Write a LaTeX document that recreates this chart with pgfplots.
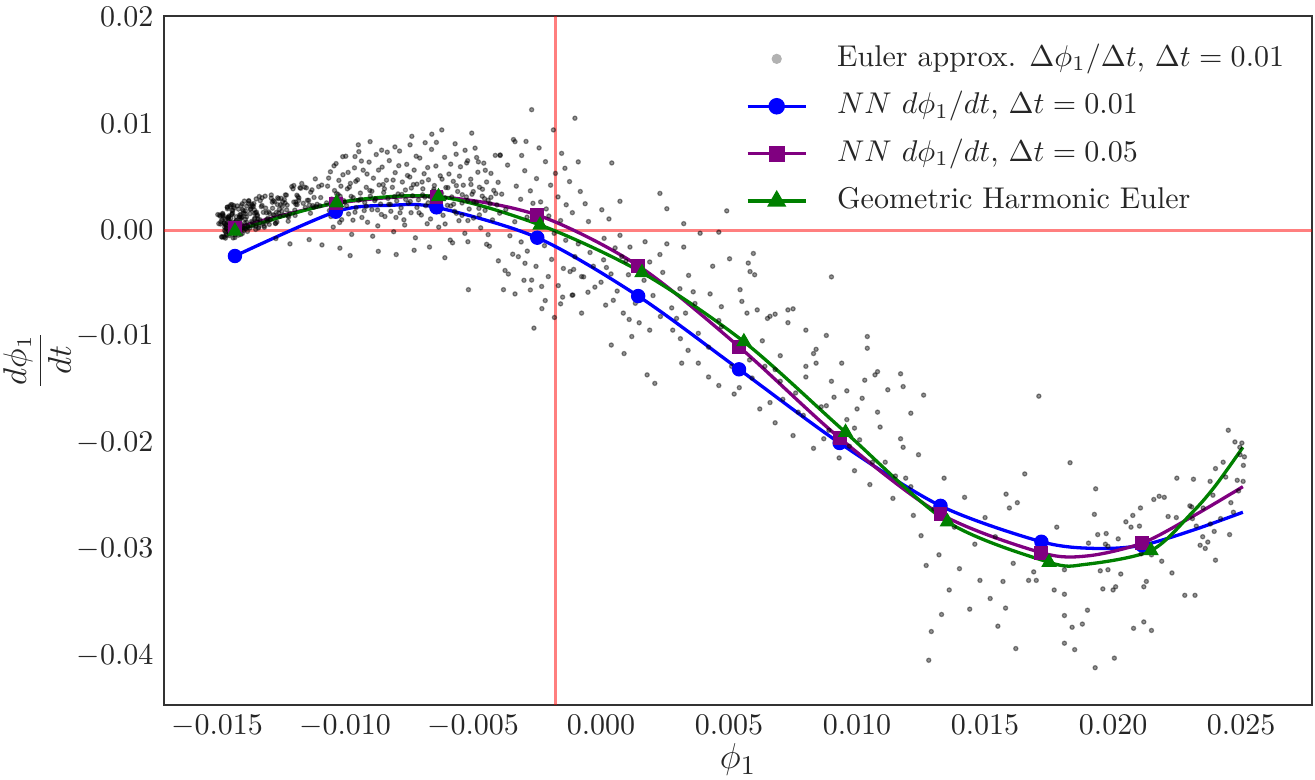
\documentclass[border=0pt]{standalone}
\usepackage{pgfplots}
\pgfplotsset{compat=1.18}
\definecolor{nnpurple}{RGB}{128,0,128}
\definecolor{ghgreen}{RGB}{0,128,0}
\definecolor{frame}{RGB}{51,51,51}
\begin{document}
\begin{tikzpicture}
\path[use as bounding box] (-54.67pt,-25pt) rectangle (383.67pt,235pt);
\begin{axis}[
  at={(0,0)}, anchor=south west,
  scale only axis, width=382.67pt, height=229.67pt,
  xmin=-0.01707, xmax=0.02777, ymin=-0.0446, ymax=0.0201,
  xtick={-0.015,-0.010,-0.005,0,0.005,0.010,0.015,0.020,0.025},
  ytick={-0.04,-0.03,-0.02,-0.01,0,0.01,0.02},
  scaled x ticks=false, scaled y ticks=false,
  xticklabel style={/pgf/number format/.cd, fixed, fixed zerofill, precision=3},
  yticklabel style={/pgf/number format/.cd, fixed, fixed zerofill, precision=2},
  major tick length=0pt,
  axis line style={draw=frame, line width=0.8pt},
  tick label style={font=\fontsize{10}{12}\selectfont, text=black!85},
  xlabel={$\phi_1$}, ylabel={$\displaystyle\frac{d\phi_1}{dt}$},
  xlabel style={font=\fontsize{13}{15}\selectfont, at={(axis description cs:0.5,-0.0797)}, anchor=center, text=black!85},
  ylabel style={font=\fontsize{10.5}{12}\selectfont, at={(axis description cs:-0.1105,0.5)}, anchor=center, text=black!85},
  legend cell align=left,
  legend image code/.code={\path (0pt,0pt) (26.8pt,0pt);\draw[mark repeat=2,mark phase=2,#1] plot coordinates {(0pt,0pt) (9.7pt,0pt) (19.4pt,0pt)};},
  legend style={at={(axis description cs:0.9906,0.98)}, anchor=north east, draw=none, fill=none,
    font=\fontsize{10}{12}\selectfont, text=black!85, row sep=0.8pt,
    nodes={inner sep=2.5pt, text height=7.5pt, text depth=2.5pt}},
]
\addlegendimage{only marks, mark=*, mark size=1.5pt, color=black!30}
\addlegendentry{Euler approx. $\Delta\phi_1/\Delta t$, $\Delta t = 0.01$}
\addlegendimage{blue, line width=1.1pt, mark=*, mark size=2.2pt}
\addlegendentry{$NN\ d\phi_1/dt$, $\Delta t = 0.01$}
\addlegendimage{nnpurple, line width=1.1pt, mark=square*, mark size=2.1pt}
\addlegendentry{$NN\ d\phi_1/dt$, $\Delta t = 0.05$}
\addlegendimage{ghgreen, line width=1.1pt, mark=triangle*, mark size=2.6pt}
\addlegendentry{Geometric Harmonic Euler}

% scatter: Euler approximation
\addplot[only marks, mark=*, mark size=0.7pt, color=black, opacity=0.42, forget plot] table[row sep=\\] {
x y\\
-0.01473 0.00063\\ -0.01291 0.00098\\ -0.01402 0.00246\\ -0.01187 0.00238\\ -0.01455 0.00120\\ -0.01338 0.00019\\ -0.01229 0.00328\\ -0.01446 0.00075\\ -0.01361 0.00072\\ -0.01116 0.00480\\
-0.01428 0.00075\\ -0.01275 0.00267\\ -0.01481 -0.00067\\ -0.01310 0.00206\\ -0.01392 0.00067\\ -0.01158 0.00403\\ -0.01437 -0.00074\\ -0.01250 0.00298\\ -0.01349 0.00161\\ -0.01466 -0.00020\\
-0.01203 0.00387\\ -0.01419 0.00056\\ -0.01327 0.00220\\ -0.01098 0.00228\\ -0.01458 0.00069\\ -0.01384 0.00225\\ -0.01266 0.00075\\ -0.01411 0.00143\\ -0.01142 0.00279\\ -0.01449 0.00223\\
-0.01301 0.00110\\ -0.01371 0.00154\\ -0.01223 0.00131\\ -0.01488 0.00131\\ -0.01343 0.00143\\ -0.01176 0.00397\\ -0.01433 0.00031\\ -0.01283 0.00205\\ -0.01407 -0.00041\\ -0.01129 0.00377\\
-0.01462 0.00032\\ -0.01356 0.00249\\ -0.01240 0.00140\\ -0.01396 0.00159\\ -0.01195 0.00137\\ -0.01441 0.00238\\ -0.01319 0.00166\\ -0.01470 -0.00005\\ -0.01259 0.00294\\ -0.01379 0.00026\\
-0.01466 0.00047\\ -0.01284 0.00261\\ -0.01395 -0.00004\\ -0.01180 0.00301\\ -0.01448 0.00025\\ -0.01331 0.00276\\ -0.01222 0.00083\\ -0.01439 0.00159\\ -0.01354 0.00157\\ -0.01109 0.00242\\
-0.01421 0.00227\\ -0.01268 0.00166\\ -0.01474 0.00112\\ -0.01303 0.00078\\ -0.01385 0.00123\\ -0.01151 0.00396\\ -0.01430 -0.00045\\ -0.01243 0.00266\\ -0.01342 0.00132\\ -0.01459 0.00215\\
-0.01196 0.00187\\ -0.01412 0.00124\\ -0.01320 0.00060\\ -0.01091 0.00422\\ -0.01451 0.00064\\ -0.01377 0.00249\\ -0.01259 0.00159\\ -0.01404 0.00117\\ -0.01135 0.00158\\ -0.01442 0.00148\\
-0.01294 0.00155\\ -0.01364 0.00243\\ -0.01216 0.00157\\ -0.01481 0.00096\\ -0.01336 0.00033\\ -0.01169 0.00437\\ -0.01426 0.00087\\ -0.01276 0.00137\\ -0.01400 0.00191\\ -0.01122 0.00214\\
-0.01455 0.00103\\ -0.01349 0.00006\\ -0.01233 0.00330\\ -0.01389 0.00102\\ -0.01188 0.00327\\ -0.01434 0.00007\\ -0.01312 0.00318\\ -0.01463 0.00017\\ -0.01252 0.00237\\ -0.01372 0.00018\\
-0.01478 0.00156\\ -0.01296 0.00053\\ -0.01407 0.00145\\ -0.01192 0.00242\\ -0.01460 0.00214\\ -0.01343 0.00079\\ -0.01234 0.00254\\ -0.01451 -0.00036\\ -0.01366 0.00220\\ -0.01121 0.00306\\
-0.01433 0.00208\\ -0.01280 0.00143\\ -0.01486 0.00056\\ -0.01315 0.00026\\ -0.01397 0.00181\\ -0.01163 0.00251\\ -0.01442 0.00186\\ -0.01255 0.00129\\ -0.01354 0.00189\\ -0.01471 -0.00066\\
-0.01208 0.00408\\ -0.01424 0.00089\\ -0.01332 0.00096\\ -0.01103 0.00408\\ -0.01463 -0.00036\\ -0.01389 0.00151\\ -0.01271 0.00063\\ -0.01416 0.00196\\ -0.01147 0.00279\\ -0.01454 0.00132\\
-0.01306 0.00100\\ -0.01376 0.00271\\ -0.01228 0.00189\\ -0.01493 0.00060\\ -0.01348 0.00035\\ -0.01181 0.00277\\ -0.01438 -0.00011\\ -0.01288 0.00329\\ -0.01412 0.00073\\ -0.01134 0.00355\\
-0.01467 -0.00076\\ -0.01361 0.00231\\ -0.01245 0.00222\\ -0.01401 0.00043\\ -0.01200 0.00418\\ -0.01446 0.00062\\ -0.01324 0.00231\\ -0.01475 -0.00062\\ -0.01264 0.00239\\ -0.01384 0.00072\\
-0.01470 0.00026\\ -0.01288 0.00299\\ -0.01399 0.00023\\ -0.01184 0.00314\\ -0.01452 -0.00052\\ -0.01335 0.00315\\ -0.01226 0.00234\\ -0.01443 0.00015\\ -0.01358 0.00221\\ -0.01113 0.00221\\
-0.01425 0.00125\\ -0.01272 0.00062\\ -0.01478 0.00150\\ -0.01307 0.00162\\ -0.01389 0.00180\\ -0.01155 0.00211\\ -0.01434 0.00229\\ -0.01247 0.00176\\ -0.01346 0.00168\\ -0.01463 -0.00049\\
-0.01200 0.00263\\ -0.01416 0.00006\\ -0.01324 0.00303\\ -0.01095 0.00305\\ -0.01455 0.00120\\ -0.01381 -0.00013\\ -0.01263 0.00303\\ -0.01408 0.00103\\ -0.01139 0.00235\\ -0.01446 0.00238\\
-0.01298 0.00170\\ -0.01368 0.00199\\ -0.01220 0.00124\\ -0.01485 0.00077\\ -0.01340 0.00104\\ -0.01173 0.00392\\ -0.01430 -0.00070\\ -0.01280 0.00275\\ -0.01404 0.00121\\ -0.01126 0.00229\\
-0.01459 0.00199\\ -0.01353 0.00104\\ -0.01237 0.00286\\ -0.01393 0.00012\\ -0.01192 0.00264\\ -0.01438 0.00186\\ -0.01316 0.00038\\ -0.01467 0.00101\\ -0.01256 0.00195\\ -0.01376 0.00276\\
-0.01482 -0.00063\\ -0.01411 0.00120\\ -0.01464 0.00016\\ -0.01347 0.00292\\ -0.01455 -0.00009\\ -0.01370 0.00193\\ -0.01437 0.00066\\ -0.01490 0.00141\\ -0.01401 -0.00032\\ -0.01446 0.00110\\
-0.01358 0.00041\\ -0.01475 0.00135\\ -0.01428 0.00026\\ -0.01467 0.00057\\ -0.01393 0.00272\\ -0.01420 -0.00028\\ -0.01458 0.00113\\ -0.01380 0.00037\\ -0.01497 0.00145\\ -0.01352 0.00112\\
-0.01442 0.00147\\ -0.01416 -0.00048\\ -0.01471 0.00067\\ -0.01365 0.00081\\ -0.01405 0.00229\\ -0.01450 0.00065\\ -0.01479 0.00137\\ -0.01388 0.00010\\
-0.01068 0.00412\\ -0.01061 0.00183\\ -0.01057 0.00547\\ -0.01052 0.00291\\ -0.01046 0.00028\\ -0.01041 0.00371\\ -0.01035 0.00624\\ -0.01031 0.00224\\ -0.01024 0.00466\\ -0.01019 0.00318\\
-0.01013 0.00097\\ -0.01008 0.00519\\ -0.01002 0.00262\\ -0.00997 0.00693\\ -0.00991 0.00387\\ -0.00986 0.00151\\ -0.00979 0.00438\\ -0.00974 -0.00041\\ -0.00968 0.00304\\ -0.00963 0.00584\\
-0.00957 0.00211\\ -0.00951 0.00472\\ -0.00946 0.00736\\ -0.00940 0.00347\\ -0.00934 0.00118\\ -0.00929 0.00562\\ -0.00923 0.00259\\ -0.00917 0.00401\\ -0.00912 0.00073\\ -0.00906 0.00638\\
-0.00901 0.00318\\ -0.00895 0.00192\\ -0.00889 0.00487\\ -0.00884 0.00276\\ -0.00878 0.00709\\ -0.00872 0.00039\\ -0.00867 0.00423\\ -0.00861 0.00244\\ -0.00855 0.00591\\ -0.00849 0.00352\\
-0.00844 0.00127\\ -0.00838 0.00468\\ -0.00832 0.00297\\ -0.00827 0.00652\\ -0.00821 0.00176\\ -0.00815 0.00401\\ -0.00810 -0.00016\\ -0.00804 0.00539\\ -0.00798 0.00273\\ -0.00793 0.00339\\
-0.00787 0.00742\\ -0.00781 0.00208\\ -0.00776 0.00451\\ -0.00770 0.00096\\ -0.00764 0.00376\\ -0.00759 0.00617\\ -0.00753 0.00252\\ -0.00747 0.00498\\ -0.00742 0.00163\\ -0.00736 0.00322\\
-0.00730 0.00563\\ -0.00725 -0.00073\\ -0.00719 0.00431\\ -0.00713 0.00284\\ -0.00708 0.00676\\ -0.00702 0.00141\\ -0.00696 0.00387\\ -0.00691 0.00529\\ -0.00685 0.00229\\ -0.00679 0.00059\\
-0.00674 0.00472\\ -0.00668 0.00313\\ -0.00662 0.00757\\ -0.00657 0.00194\\ -0.00651 0.00418\\ -0.00645 0.00601\\ -0.00640 0.00268\\ -0.00634 0.00027\\ -0.00628 0.00509\\ -0.00623 0.00346\\
-0.00617 0.00138\\ -0.00611 0.00683\\ -0.00606 0.00399\\ -0.00600 0.00232\\ -0.00594 0.00526\\ -0.00589 -0.00094\\ -0.00583 0.00311\\ -0.00577 0.00457\\ -0.00572 0.00176\\ -0.00566 0.00712\\
-0.00560 0.00362\\ -0.00555 0.00088\\ -0.00549 0.00594\\ -0.00543 0.00254\\ -0.00538 0.00421\\ -0.00532 -0.00031\\ -0.00526 0.00311\\ -0.00521 0.00651\\ -0.00515 0.00197\\ -0.00509 0.00477\\
-0.00504 0.00336\\ -0.00498 0.00112\\ -0.00492 0.00769\\ -0.00487 0.00259\\ -0.00481 0.00543\\ -0.00475 0.00402\\ -0.00470 0.00021\\ -0.00464 0.00318\\ -0.00458 0.00628\\ -0.00453 0.00184\\
-0.00447 0.00451\\ -0.00441 0.00279\\ -0.00436 -0.00152\\ -0.00430 0.00532\\ -0.00424 0.00095\\ -0.00419 0.00372\\ -0.00413 0.00701\\ -0.00407 0.00236\\ -0.00402 0.00448\\ -0.00396 0.00158\\
-0.01049 0.00198\\ -0.01027 0.00334\\ -0.01005 0.00276\\ -0.00983 0.00402\\ -0.00961 0.00167\\ -0.00939 0.00291\\ -0.00917 0.00223\\ -0.00895 0.00364\\ -0.00873 0.00188\\ -0.00851 0.00427\\
-0.00829 0.00241\\ -0.00807 0.00313\\ -0.00785 0.00162\\ -0.00763 0.00287\\ -0.00741 0.00394\\ -0.00719 0.00212\\ -0.00697 0.00331\\ -0.00675 0.00256\\ -0.00653 0.00383\\ -0.00631 0.00173\\
-0.00609 0.00302\\ -0.00587 0.00226\\ -0.00565 0.00417\\ -0.00543 0.00138\\ -0.00521 0.00275\\ -0.00499 0.00361\\ -0.00477 0.00203\\ -0.00455 0.00294\\ -0.00433 0.00247\\ -0.00411 0.00342\\
-0.01072 0.00255\\ -0.01064 0.00488\\ -0.01055 0.00127\\ -0.01043 0.00603\\ -0.01033 0.00342\\ -0.01021 0.00071\\ -0.01016 0.00412\\ -0.01009 0.00689\\ -0.00994 0.00228\\ -0.00988 0.00541\\
-0.00976 0.00316\\ -0.00969 0.00093\\ -0.00958 0.00457\\ -0.00947 0.00279\\ -0.00936 0.00648\\ -0.00925 0.00183\\ -0.00914 0.00526\\ -0.00903 0.00371\\ -0.00892 -0.00058\\ -0.00881 0.00292\\
-0.00869 0.00563\\ -0.00858 0.00146\\ -0.00846 0.00387\\ -0.00835 0.00731\\ -0.00823 0.00241\\ -0.00812 0.00469\\ -0.00801 0.00118\\ -0.00790 0.00604\\ -0.00778 0.00334\\ -0.00767 0.00047\\
-0.00756 0.00512\\ -0.00745 0.00268\\ -0.00733 0.00427\\ -0.00722 0.00693\\ -0.00711 0.00162\\ -0.00699 0.00451\\ -0.00688 0.00309\\ -0.00677 0.00587\\ -0.00666 0.00104\\ -0.00654 0.00366\\
-0.00643 0.00823\\ -0.00632 0.00221\\ -0.00621 0.00478\\ -0.00609 0.00057\\ -0.00598 0.00398\\ -0.00587 0.00619\\ -0.00576 0.00243\\ -0.00565 0.00157\\ -0.00553 0.00506\\ -0.00542 0.00332\\
-0.00531 0.00749\\ -0.00520 0.00089\\ -0.00508 0.00428\\ -0.00497 0.00263\\ -0.00486 0.00681\\ -0.00475 0.00142\\ -0.00463 0.00383\\ -0.00452 0.00561\\ -0.00441 -0.00043\\ -0.00430 0.00307\\
-0.00948 0.00800\\ -0.00902 0.00830\\ -0.00805 0.00780\\ -0.00746 0.00800\\ -0.00687 0.00820\\ -0.00739 0.00880\\ -0.00661 0.00900\\ -0.00622 0.00940\\ -0.00505 0.00910\\ -0.00570 0.00810\\ -0.00857 0.00750\\ -0.00961 0.00690\\ -0.00525 0.00630\\ -0.00479 0.00640\\ -0.00336 0.00830\\ -0.00394 0.00705\\
-0.00980 -0.00240\\ -0.01090 -0.00140\\ -0.00870 -0.00200\\ -0.00730 -0.00190\\ -0.00670 -0.00160\\ -0.00580 -0.00120\\ -0.00520 -0.00110\\ -0.01020 -0.00170\\ -0.00800 -0.00230\\ -0.00610 -0.00260\\ -0.01140 -0.00090\\ -0.01215 -0.00130\\ -0.01270 -0.00080\\
-0.00271 0.01130\\ -0.00102 0.01050\\ -0.00186 0.00940\\ -0.00154 0.00720\\ -0.00342 0.00850\\ -0.00394 0.00700\\ -0.00310 0.00700\\ -0.00089 0.00640\\ 0.00042 0.00630\\ -0.00141 0.00580\\
-0.00365 0.00610\\ -0.00298 0.00557\\ -0.00252 0.00483\\ -0.00217 0.00642\\ -0.00331 0.00412\\ -0.00388 0.00337\\ -0.00276 0.00368\\ -0.00236 0.00264\\ -0.00197 0.00421\\ -0.00168 0.00311\\
-0.00123 0.00455\\ -0.00081 0.00362\\ -0.00049 0.00080\\ 0.00003 0.00190\\ 0.00031 0.00104\\ -0.00062 0.00247\\ -0.00112 0.00163\\ -0.00158 0.00089\\ -0.00204 0.00132\\ -0.00245 0.00037\\
-0.00289 0.00121\\ -0.00337 0.00078\\ -0.00372 0.00192\\ -0.00356 -0.00054\\ -0.00312 -0.00112\\ -0.00268 -0.00068\\ -0.00221 -0.00147\\ -0.00183 -0.00031\\ -0.00138 -0.00096\\ -0.00089 -0.00130\\
-0.00043 -0.00211\\ 0.00012 -0.00078\\ -0.00375 -0.00380\\ -0.00362 -0.00413\\ -0.00323 -0.00250\\ -0.00297 -0.00312\\ -0.00271 -0.00470\\ -0.00232 -0.00530\\ -0.00206 -0.00437\\ -0.00121 -0.00390\\
-0.00102 -0.00250\\ -0.00076 -0.00437\\ 0.00000 -0.00490\\ 0.00039 -0.00412\\ -0.00518 -0.00560\\ -0.00381 -0.00560\\ -0.00336 -0.00600\\ -0.00254 -0.00341\\ -0.00193 -0.00276\\ -0.00167 -0.00522\\
-0.00147 -0.00361\\ -0.00288 -0.00198\\ -0.00345 -0.00227\\ -0.00401 -0.00289\\ -0.00447 -0.00134\\ -0.00182 -0.00821\\ -0.00218 -0.00662\\ -0.00276 -0.00563\\ -0.00231 -0.00738\\ -0.00158 -0.00693\\
-0.00262 -0.00921\\ -0.00113 -0.00612\\ -0.00051 -0.00584\\ -0.00301 -0.00472\\ -0.00214 0.00198\\ -0.00266 0.00251\\ -0.00314 0.00289\\ -0.00178 0.00532\\ -0.00293 0.00832\\ -0.00242 0.00771\\ -0.00136 0.00237\\
0.00021 -0.00352\\ 0.00063 -0.00573\\ 0.00097 -0.00291\\ 0.00134 -0.00688\\ 0.00168 -0.00472\\ 0.00203 -0.00615\\ 0.00241 -0.00398\\ 0.00276 -0.00731\\ 0.00018 -0.00705\\ -0.00024 -0.00536\\
0.00149 -0.00871\\ 0.00232 -0.00812\\ 0.00308 -0.00551\\ 0.00342 -0.00426\\ 0.00055 -0.00168\\
0.00074 0.00270\\ 0.00230 0.00344\\ 0.00257 0.00200\\ 0.00491 0.00180\\ 0.00323 0.00060\\ 0.00387 -0.00030\\ 0.00460 -0.00020\\ 0.00595 -0.00220\\ 0.00575 -0.00310\\ 0.00582 -0.00390\\
0.00600 -0.00420\\ 0.00502 -0.00270\\ 0.00436 -0.00340\\ 0.00323 -0.00160\\ 0.00257 -0.00130\\ 0.00230 -0.00230\\ 0.00172 -0.00110\\ 0.00113 -0.00160\\ 0.00074 -0.00050\\ 0.00190 -0.00300\\
0.00081 -0.00250\\ 0.00140 -0.00330\\ 0.00107 -0.00420\\ 0.00010 -0.00280\\ -0.00030 -0.00340\\ -0.00107 -0.00370\\ -0.00068 -0.00440\\ -0.00110 -0.00610\\ -0.00150 -0.00630\\ -0.00076 -0.00780\\
0.00048 -0.00660\\ 0.00087 -0.00780\\ 0.00110 -0.00840\\ 0.00120 -0.01000\\ 0.00190 -0.00940\\ 0.00090 -0.01160\\ 0.00040 -0.01080\\ 0.00180 -0.01360\\ 0.00210 -0.01440\\ 0.00280 -0.00940\\
0.00295 -0.00830\\ 0.00330 -0.00780\\ 0.00367 -0.00690\\ 0.00426 -0.00600\\ 0.00470 -0.00720\\ 0.00543 -0.00560\\ 0.00570 -0.00780\\ 0.00610 -0.00750\\ 0.00660 -0.00810\\ 0.00680 -0.00790\\
0.00730 -0.00750\\ 0.00750 -0.00740\\ 0.00650 -0.00830\\ 0.00460 -0.00850\\ 0.00380 -0.00970\\ 0.00340 -0.01130\\ 0.00380 -0.01250\\ 0.00315 -0.01250\\ 0.00420 -0.01380\\ 0.00460 -0.01460\\
0.00520 -0.01540\\ 0.00540 -0.01480\\ 0.00800 -0.00940\\ 0.00880 -0.00990\\ 0.00830 -0.01160\\ 0.00840 -0.01250\\ 0.00900 -0.00440\\ 0.00800 -0.01280\\ 0.01040 -0.01000\\ 0.01040 -0.01110\\
0.01080 -0.01330\\ 0.01070 -0.01360\\ 0.01170 -0.01350\\ 0.01180 -0.01470\\ 0.01260 -0.01550\\ 0.01020 -0.01580\\
0.00310 -0.01020\\ 0.00360 -0.00580\\ 0.00420 -0.01100\\ 0.00470 -0.00910\\ 0.00510 -0.01280\\ 0.00550 -0.00670\\ 0.00590 -0.01390\\ 0.00630 -0.01040\\ 0.00660 -0.01620\\ 0.00700 -0.01180\\
0.00730 -0.00870\\ 0.00770 -0.01710\\ 0.00800 -0.01380\\ 0.00840 -0.01120\\ 0.00870 -0.01960\\ 0.00910 -0.01570\\ 0.00940 -0.01250\\ 0.00970 -0.02030\\ 0.01000 -0.01680\\ 0.01030 -0.01410\\
0.01060 -0.02180\\ 0.01090 -0.01850\\ 0.01120 -0.01500\\ 0.01150 -0.02310\\ 0.01180 -0.02040\\ 0.01210 -0.01720\\ 0.00560 -0.01050\\ 0.00680 -0.01310\\ 0.00880 -0.01650\\ 0.00990 -0.01860\\
0.00620 -0.01680\\ 0.00680 -0.01810\\ 0.00710 -0.01590\\ 0.00750 -0.01930\\ 0.00790 -0.01740\\ 0.00830 -0.02050\\ 0.00860 -0.01660\\ 0.00890 -0.01880\\ 0.00930 -0.02140\\ 0.00960 -0.01780\\
0.00990 -0.02260\\ 0.01010 -0.01970\\ 0.01050 -0.02390\\ 0.01080 -0.01710\\ 0.01110 -0.02180\\ 0.01140 -0.02520\\ 0.01170 -0.01960\\ 0.01190 -0.02330\\ 0.01220 -0.02680\\ 0.01240 -0.02110\\
0.00700 -0.01420\\ 0.00760 -0.01530\\ 0.00640 -0.01280\\ 0.00580 -0.01220\\ 0.00900 -0.01420\\ 0.00960 -0.01510\\
0.01832 -0.02185\\ 0.01655 -0.02290\\ 0.01932 -0.02430\\ 0.01582 -0.02480\\ 0.01626 -0.02560\\ 0.01595 -0.02610\\ 0.01927 -0.02670\\ 0.02249 -0.02330\\ 0.02314 -0.02340\\ 0.02379 -0.02360\\
0.02400 -0.02240\\ 0.02450 -0.01880\\ 0.02476 -0.01990\\ 0.02503 -0.02000\\ 0.02496 -0.02110\\ 0.02513 -0.02130\\ 0.02509 -0.02210\\ 0.02440 -0.02320\\ 0.02485 -0.02350\\ 0.02508 -0.02360\\
0.02390 -0.02490\\ 0.02300 -0.02590\\ 0.02307 -0.02600\\ 0.02352 -0.02610\\ 0.02200 -0.02510\\ 0.02180 -0.02500\\ 0.02159 -0.02530\\ 0.02107 -0.02610\\ 0.02077 -0.02680\\ 0.02103 -0.02780\\
0.02070 -0.02790\\ 0.02050 -0.02740\\ 0.01940 -0.02860\\ 0.01973 -0.02850\\ 0.01904 -0.02940\\ 0.01970 -0.02950\\ 0.01980 -0.02970\\ 0.02020 -0.02900\\ 0.02110 -0.03040\\ 0.02150 -0.03050\\
0.02190 -0.03110\\ 0.02215 -0.02690\\ 0.02247 -0.02700\\ 0.02310 -0.02710\\ 0.02325 -0.02780\\ 0.02350 -0.02880\\ 0.02360 -0.02990\\ 0.02370 -0.02930\\ 0.02340 -0.02960\\ 0.02400 -0.03100\\
0.02380 -0.02760\\ 0.02470 -0.02650\\ 0.02230 -0.03220\\ 0.02280 -0.03430\\ 0.02130 -0.03300\\ 0.02120 -0.03350\\ 0.02150 -0.03760\\ 0.02120 -0.03680\\ 0.02080 -0.03740\\ 0.01950 -0.03200\\
0.01980 -0.03190\\ 0.02030 -0.03230\\ 0.01960 -0.03370\\ 0.02000 -0.03380\\ 0.02010 -0.03350\\ 0.01810 -0.03190\\ 0.01770 -0.03380\\ 0.01810 -0.03420\\ 0.01900 -0.03570\\ 0.01810 -0.03620\\
0.01840 -0.03730\\ 0.01880 -0.03700\\ 0.01810 -0.03880\\ 0.01850 -0.03940\\ 0.01690 -0.03210\\ 0.01670 -0.03290\\ 0.01700 -0.03290\\ 0.01610 -0.03130\\ 0.01570 -0.03300\\ 0.01580 -0.03550\\
0.01620 -0.03930\\ 0.01780 -0.02790\\ 0.01710 -0.01560\\ 0.01290 -0.03770\\ 0.01280 -0.04040\\ 0.01930 -0.04110\\ 0.02005 -0.04020\\
0.01210 -0.02410\\ 0.01250 -0.02870\\ 0.01270 -0.03150\\ 0.01300 -0.02620\\ 0.01320 -0.03050\\ 0.01340 -0.02330\\ 0.01360 -0.03380\\ 0.01380 -0.02790\\ 0.01400 -0.03180\\ 0.01420 -0.02510\\
0.01440 -0.03560\\ 0.01460 -0.02950\\ 0.01480 -0.03290\\ 0.01500 -0.02700\\ 0.01520 -0.03460\\ 0.01540 -0.02880\\ 0.01550 -0.03720\\ 0.01330 -0.03610\\
0.02430 -0.02180\\ 0.02460 -0.02560\\ 0.02490 -0.02450\\ 0.02420 -0.02710\\ 0.02455 -0.02860\\ 0.02395 -0.02830\\ 0.02495 -0.02040\\ 0.02320 -0.03430\\
};

% reference lines
\addplot[red, opacity=0.5, line width=1pt, forget plot] coordinates {(-0.00177,-0.0446) (-0.00177,0.0201)};
\addplot[red, opacity=0.5, line width=1pt, forget plot] coordinates {(-0.01707,0) (0.02777,0)};

% NN dt=0.01
\addplot[blue, line width=1.1pt, smooth, forget plot] coordinates {
(-0.0143,-0.00244) (-0.01036,0.00172) (-0.0082,0.00232) (-0.00643,0.00213) (-0.00249,-0.00072) (0.00145,-0.0062) (0.00539,-0.01308) (0.00932,-0.0200) (0.01326,-0.0259) (0.0172,-0.02927) (0.0193,-0.0299) (0.02113,-0.0296) (0.0231,-0.0282) (0.02507,-0.0265)};
\addplot[blue, only marks, mark=*, mark size=2.2pt, forget plot] coordinates {
(-0.0143,-0.00244) (-0.01036,0.00172) (-0.00643,0.00213) (-0.00249,-0.00072) (0.00145,-0.0062) (0.00539,-0.01308) (0.00932,-0.0200) (0.01326,-0.0259) (0.0172,-0.02927) (0.02113,-0.0296)};

% NN dt=0.05
\addplot[nnpurple, line width=1.1pt, smooth, forget plot] coordinates {
(-0.0143,0.0002) (-0.01036,0.0025) (-0.00643,0.00313) (-0.00249,0.00141) (0.00145,-0.00335) (0.00539,-0.01096) (0.00932,-0.01953) (0.01326,-0.02667) (0.0172,-0.0303) (0.0190,-0.0306) (0.02113,-0.0294) (0.0231,-0.0269) (0.02507,-0.0241)};
\addplot[nnpurple, only marks, mark=square*, mark size=2.1pt, forget plot] coordinates {
(-0.0143,0.0002) (-0.01036,0.0025) (-0.00643,0.00313) (-0.00249,0.00141) (0.00145,-0.00335) (0.00539,-0.01096) (0.00932,-0.01953) (0.01326,-0.02667) (0.0172,-0.0303) (0.02113,-0.0294)};

% Geometric harmonic Euler
\addplot[ghgreen, line width=1.1pt, smooth, forget plot] coordinates {
(-0.0143,-0.0001) (-0.01033,0.00256) (-0.00635,0.00313) (-0.00238,0.00047) (0.0016,-0.0040) (0.00558,-0.01049) (0.00955,-0.0190) (0.01353,-0.0274) (0.0175,-0.0312) (0.0189,-0.0314) (0.02148,-0.0301) (0.0231,-0.0265) (0.0240,-0.0240) (0.02507,-0.0204)};
\addplot[ghgreen, only marks, mark=triangle*, mark size=2.6pt, forget plot] coordinates {
(-0.0143,-0.0001) (-0.01033,0.00256) (-0.00635,0.00313) (-0.00238,0.00047) (0.0016,-0.0040) (0.00558,-0.01049) (0.00955,-0.0190) (0.01353,-0.0274) (0.0175,-0.0312) (0.02148,-0.0301)};
\end{axis}
\end{tikzpicture}
\end{document}
